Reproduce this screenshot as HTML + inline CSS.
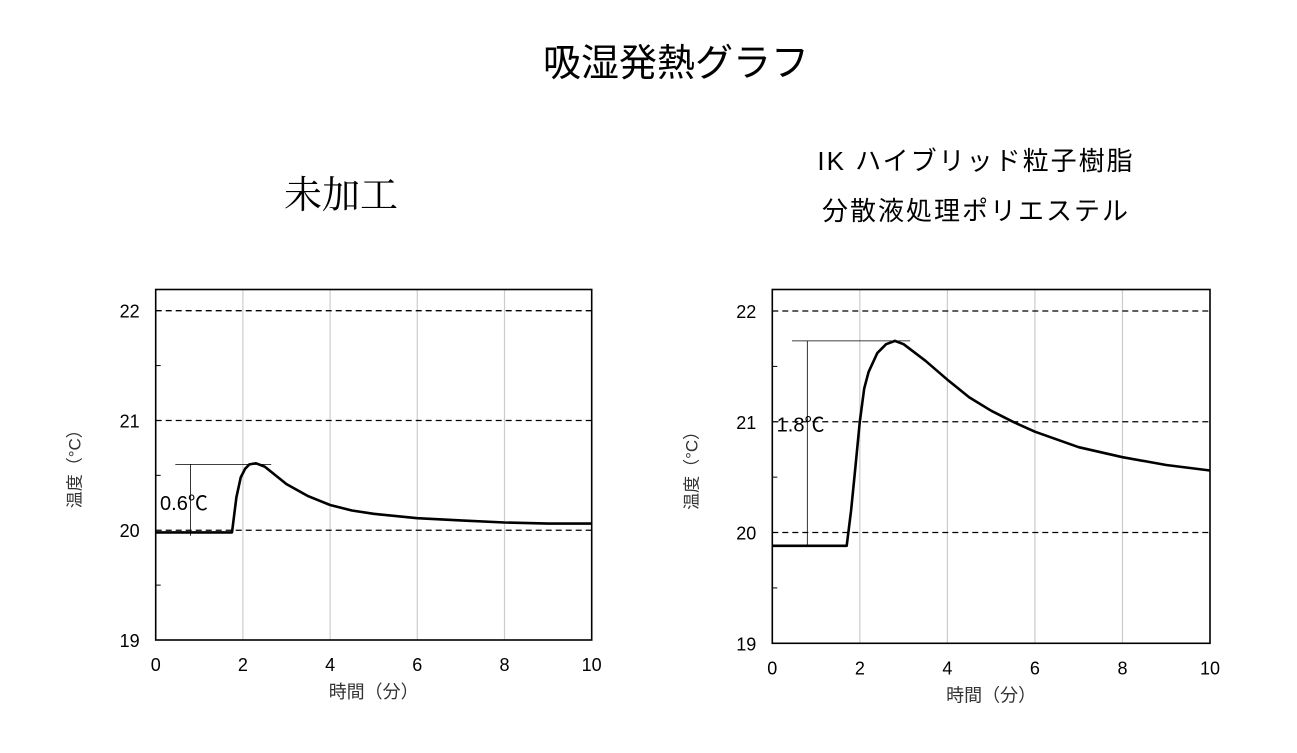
<!DOCTYPE html>
<html><head><meta charset="utf-8"><style>
body{margin:0;background:#fff;width:1297px;height:748px;overflow:hidden;font-family:"Liberation Sans","Noto Sans CJK JP",sans-serif}
</style></head><body>
<svg id="s" width="1297" height="748" font-family="Liberation Sans, Noto Sans CJK JP, sans-serif">
<text x="676" y="76" font-size="38" text-anchor="middle">吸湿発熱グラフ</text>
<text x="341" y="208" font-size="38" text-anchor="middle" font-family="Noto Serif CJK SC, serif">未加工</text>
<text x="976" y="170" font-size="26" text-anchor="middle" letter-spacing="2">IK ハイブリッド粒子樹脂</text>
<text x="976" y="220" font-size="26" text-anchor="middle" letter-spacing="2">分散液処理ポリエステル</text>
</svg>
<script>
const xTicks=[0,2,4,6,8,10];
const yTicks=[19,20,21,22];
const leftX=[0,1.75,1.85,1.95,2.05,2.15,2.3,2.5,2.75,3,3.5,4,4.5,5,6,7,8,9,10];
const leftY=[19.98,19.98,20.3,20.48,20.56,20.6,20.61,20.58,20.5,20.42,20.31,20.23,20.18,20.15,20.11,20.09,20.07,20.06,20.06];
const rightX=[0,1.7,1.8,1.9,2.0,2.1,2.2,2.4,2.6,2.8,3,3.5,4,4.5,5,5.5,6,7,8,9,10];
const rightY=[19.88,19.88,20.2,20.6,21.0,21.3,21.45,21.62,21.7,21.73,21.7,21.55,21.38,21.22,21.1,21.0,20.91,20.77,20.68,20.61,20.56];
const leftAnno=[20.6,19.95,0.6];
const rightAnno=[21.73,19.88,1.8];
const NS='http://www.w3.org/2000/svg',svg=document.getElementById('s');
function mk(t,a,p){const e=document.createElementNS(NS,t);for(const k in a)e.setAttribute(k,a[k]);(p||svg).appendChild(e);return e;}
function chart(L,R,y22,y19,xs,ys,anno,name){
 const g=mk('g',{});
 
 
 const top=289.5,bot=y19;
 const X=v=>L+(R-L)*v/10, Y=v=>y19-(y19-y22)*(v-19)/3;
 xTicks.forEach(t=>{
  if(t>0&&t<10){const l=mk('line',{x1:X(t),x2:X(t),y1:top,y2:bot,stroke:'#ccc','stroke-width':1.2},g);}
  const tx=mk('text',{x:X(t),y:bot+31,'font-size':18,'text-anchor':'middle'},g);tx.textContent=t;
  
 });
 yTicks.forEach(t=>{
  if(t>19){const l=mk('line',{x1:L,x2:R,y1:Y(t),y2:Y(t),stroke:'#000','stroke-width':1.3,'stroke-dasharray':'6,4'},g);}
  const tx=mk('text',{x:L-16,y:Y(t)+7,'font-size':18,'text-anchor':'end'},g);tx.textContent=t;
  
 });
 [19.5,20.5,21.5].forEach(t=>mk('line',{x1:L,x2:L+5,y1:Y(t),y2:Y(t),stroke:'#000','stroke-width':1},g));
 const b=mk('rect',{x:L,y:top,width:R-L,height:bot-top,fill:'none',stroke:'#000','stroke-width':1.6},g);
 
 // annotation
 const pk=xs[ys.indexOf(Math.max(...ys))];
 mk('line',{x1:X(0.45),x2:X(pk+0.35),y1:Y(anno[0]),y2:Y(anno[0]),stroke:'#000','stroke-width':0.8},g);
 mk('line',{x1:X(0.8),x2:X(0.8),y1:Y(anno[0]),y2:Y(anno[1]),stroke:'#000','stroke-width':0.8},g);
 const lt=mk('text',{x:X(0.1),y:Y((anno[0]+anno[1])/2)+10+(anno[2]>1?-22:0),'font-size':20},g);
 lt.textContent=anno[2].toFixed(1)+'℃';
 
 let d='';xs.forEach((v,i)=>{d+=(i?'L':'M')+X(v).toFixed(1)+','+Y(ys[i]).toFixed(1);});
 const p=mk('path',{d:d,fill:'none',stroke:'#000','stroke-width':2.6,'stroke-linejoin':'round'},g);
 
 const xl=mk('text',{x:(L+R)/2,y:bot+58,'font-size':18,'text-anchor':'middle',fill:'#333'},g);xl.textContent='時間（分）';
 
 const yl=mk('text',{x:0,y:0,'font-size':17,'text-anchor':'middle',fill:'#333',transform:'translate('+(L-75)+','+((top+bot)/2)+') rotate(-90)'},g);yl.textContent='温度（°C）';
 
}
chart(155.7,591.7,310.7,640,leftX,leftY,leftAnno,'left-chart');
chart(772.3,1210,311,643.3,rightX,rightY,rightAnno,'right-chart');
</script>
</body></html>
